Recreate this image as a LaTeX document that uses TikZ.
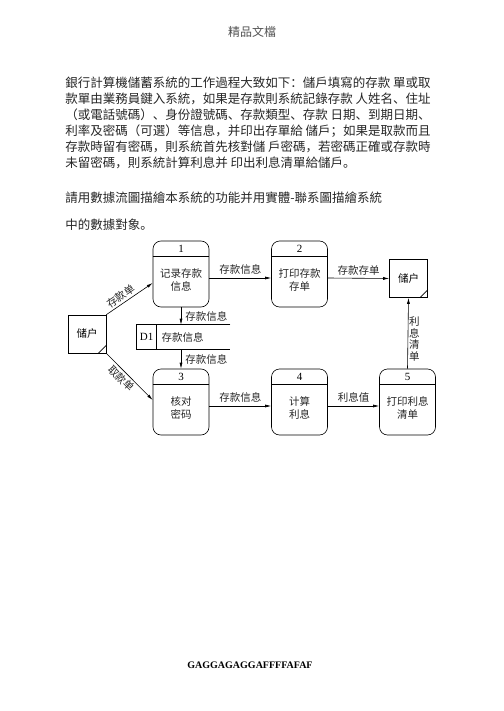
\documentclass[tikz,border=0pt]{standalone}
\usepackage{fontspec}
\setmainfont{Liberation Serif}
\newfontfamily\tcfont{Noto Sans CJK SC}
\newfontfamily\scfont{Noto Sans CJK SC}
\usetikzlibrary{arrows.meta,positioning}
\tikzset{proc/.style={draw, rounded corners=8pt, minimum width=56pt, minimum height=66pt, inner sep=0pt},
        ent/.style={draw, minimum size=38pt, inner sep=0pt, font=\scfont\fontsize{10.5}{13}\selectfont},
        flow/.style={-{Latex[length=6pt,width=3pt]}},
        lbl/.style={font=\scfont\fontsize{10.5}{13}\selectfont, inner sep=1pt, text=fg},
        num/.style={font=\fontsize{11}{13}\selectfont, inner sep=1pt},
        para/.style={anchor=west, inner sep=0pt, font=\tcfont\fontsize{12.5}{16}\selectfont, text=fg}}
\colorlet{fg}{black!85}

\begin{document}
\begin{tikzpicture}[x=1pt, y=-1pt, line width=0.6pt]
        \useasboundingbox (0,0) rectangle (503,711);
        \node[font=\tcfont\fontsize{12}{14}\selectfont, text=fg!80] (head) at (252,32) {精品文檔};

        \node[para] (t1) at (65,83) {銀行計算機儲蓄系統的工作過程大致如下：儲戶填寫的存款 單或取};
        \node[para] (t2) at (65,99) {款單由業務員鍵入系統，如果是存款則系統記錄存款 人姓名、住址};
        \node[para] (t3) at (65,115) {（或電話號碼）、身份證號碼、存款類型、存款 日期、到期日期、};
        \node[para] (t4) at (65,131) {利率及密碼（可選）等信息，并印出存單給 儲戶；如果是取款而且};
        \node[para] (t5) at (65,147) {存款時留有密碼，則系統首先核對儲 戶密碼，若密碼正確或存款時};
        \node[para] (t6) at (65,163) {未留密碼，則系統計算利息并 印出利息清單給儲戶。};
        \node[para] (t7) at (65,198) {請用數據流圖描繪本系統的功能并用實體-聯系圖描繪系統};
        \node[para] (t8) at (65,225) {中的數據對象。};

        % processes
        \foreach \n/\x/\y/\txt in {1/181/274/{记录存款\\信息}, 2/299.5/274/{打印存款\\存单},
                3/181/402/{核对\\密码}, 4/299.5/402/{计算\\利息}, 5/407.5/402/{打印利息\\清单}} {
                \node[proc] (p\n) at (\x,\y) {};
                \draw ([yshift=-16pt]p\n.north west) -- ([yshift=-16pt]p\n.north east);
                \node[num] (n\n) at ([yshift=-8pt]p\n.north) {\n};
                \node[lbl, align=center] (c\n) at ([yshift=-6pt]p\n.center) {\txt};
        }

        % external entities
        \node[ent] (usrL) at (87,334) {储户};
        \node[ent] (usrR) at (408.5,278.5) {储户};
        \draw ([xshift=-8pt]usrL.south east) -- ([yshift=8pt]usrL.south east);
        \draw ([xshift=-8pt]usrR.south east) -- ([yshift=8pt]usrR.south east);

        % data store
        \node[minimum width=93pt, minimum height=24pt, inner sep=0pt] (d1) at (183.5,337) {};
        \draw (d1.north east) -- (d1.north west) -- (d1.south west) -- (d1.south east);
        \draw ([xshift=20pt]d1.north west) -- ([xshift=20pt]d1.south west);
        \node[num] (d1id) at ([xshift=10pt]d1.west) {D1};
        \node[lbl] (d1txt) at ([xshift=46pt]d1.west) {存款信息};

        % flows
        \draw[flow] (usrL.north east) -- node[lbl, sloped, above=1pt, pos=0.4] {存款单} ([yshift=-9pt]p1.west);
        \draw[flow] (usrL.south east) -- node[lbl, sloped, below=1pt, pos=0.43] {取款单} ([yshift=2pt]p3.west);
        \draw[flow] ([yshift=-4pt]p1.east) -- node[lbl, above=2pt] {存款信息} ([yshift=-4pt]p2.west);
        \draw[flow] ([yshift=-4pt]p2.east) -- node[lbl, above=2pt] {存款存单} (usrR.west);
        \draw[flow] (p1.south) -- node[lbl, right=3pt] {存款信息} (p1.south |- d1.north);
        \draw[flow] (p3.north |- d1.south) -- node[lbl, right=3pt] {存款信息} (p3.north);
        \draw[flow] ([yshift=-4pt]p3.east) -- node[lbl, above=2pt] {存款信息} ([yshift=-4pt]p4.west);
        \draw[flow] ([yshift=-4pt]p4.east) -- node[lbl, above=2pt] {利息值} ([yshift=-4pt]p5.west);
        \draw[flow] (p5.north) -- node[lbl, right, align=center, pos=0.42, font=\scfont\fontsize{10.5}{11.5}\selectfont] {利\\息\\清\\单} (usrR.south);

        \node[font=\bfseries\fontsize{10}{12}\selectfont] (foot) at (250,665) {GAGGAGAGGAFFFFAFAF};
\end{tikzpicture}
\end{document}
